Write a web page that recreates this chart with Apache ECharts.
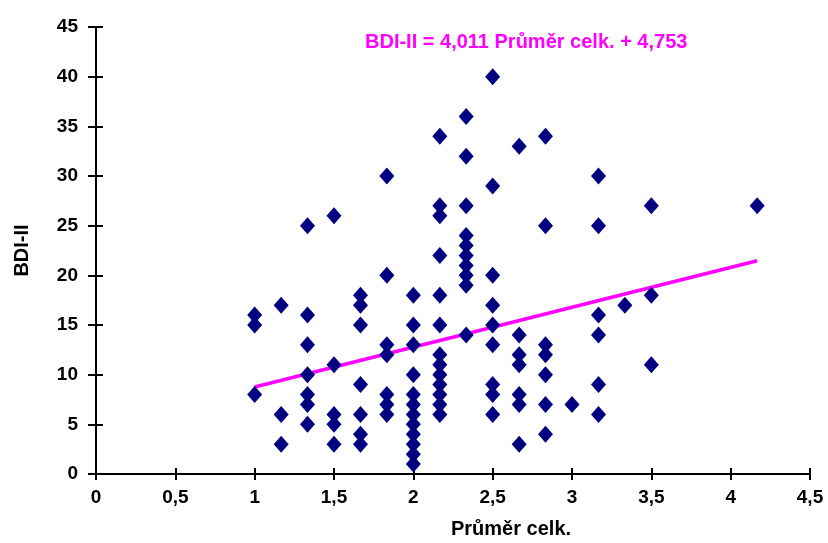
<!DOCTYPE html>
<html>
<head>
<meta charset="utf-8">
<script src="https://cdn.jsdelivr.net/npm/echarts@6/dist/echarts.min.js"></script>
<style>
  html, body { margin: 0; padding: 0; background: #fff; }
  #chart { width: 828px; height: 543px; }
</style>
</head>
<body>
<div id="chart"></div>
<script>
// Mean score (Průměr celk.) levels; each has a list of BDI-II scores
const meanLevels = [1, 1.167, 1.333, 1.5, 1.667, 1.833, 2, 2.167, 2.333, 2.5, 2.667, 2.833, 3, 3.167, 3.333, 3.5, 4.167];
const bdiScores = [
  [16, 15, 8],
  [17, 6, 3],
  [25, 16, 13, 10, 8, 7, 5],
  [26, 11, 6, 5, 3],
  [18, 17, 15, 9, 6, 4, 3],
  [30, 20, 13, 12, 8, 7, 6],
  [18, 15, 13, 10, 8, 7, 6, 5, 4, 3, 2, 1],
  [34, 27, 26, 22, 18, 15, 12, 11, 10, 9, 8, 7, 6],
  [36, 32, 27, 24, 23, 22, 21, 20, 19, 14],
  [40, 29, 20, 17, 15, 13, 9, 8, 6],
  [33, 14, 12, 11, 8, 7, 3],
  [34, 25, 13, 12, 10, 7, 4],
  [7],
  [30, 25, 16, 14, 9, 6],
  [17],
  [27, 18, 11],
  [27]
];

// Linear trend: BDI-II = slope * mean + intercept
const slope = 4.011;
const intercept = 4.753;
const trendRange = [1, 4.167];

const xTicks = ['0', '0,5', '1', '1,5', '2', '2,5', '3', '3,5', '4', '4,5'];

const points = [];
meanLevels.forEach((x, i) => bdiScores[i].forEach(y => points.push([x, y])));
const trendLine = trendRange.map(x => [x, slope * x + intercept]);

const fontFamily = '"Liberation Sans", Arial, sans-serif';
const tickStyle = { color: '#000', fontWeight: 'bold', fontSize: 19, fontFamily };
const nameStyle = { color: '#000', fontWeight: 'bold', fontSize: 20, fontFamily };

const chart = echarts.init(document.getElementById('chart'), null, { renderer: 'canvas' });
chart.setOption({
  animation: false,
  backgroundColor: '#fff',
  title: {
    text: 'BDI-II = 4,011 Průměr celk. + 4,753',
    left: 360,
    top: 27,
    textStyle: { color: '#FF00FF', fontWeight: 'bold', fontSize: 20, fontFamily }
  },
  graphic: [
    {
      type: 'text',
      left: 517 - 66,
      top: 519,
      style: Object.assign({ text: 'Průměr celk.', fill: '#000', font: 'bold 20px ' + fontFamily })
    }
  ],
  grid: { left: 96, right: 18, top: 27, bottom: 69, containLabel: false },
  xAxis: [
    {
      type: 'value', min: 0, max: 4.5, interval: 0.5,
      axisLine: { show: true, onZero: false, lineStyle: { color: '#000', width: 2 } },
      axisTick: { show: true, length: 6, lineStyle: { color: '#000', width: 2 } },
      axisLabel: Object.assign({ margin: 14, formatter: v => xTicks[Math.round(v * 2)] }, tickStyle),
      splitLine: { show: false }
    },
    {
      type: 'value', min: 0, max: 4.5, interval: 0.5, position: 'bottom',
      axisLine: { show: false },
      axisTick: { show: true, inside: true, length: 6, lineStyle: { color: '#000', width: 2 } },
      axisLabel: { show: false },
      splitLine: { show: false }
    }
  ],
  yAxis: [
    {
      type: 'value', min: 0, max: 45, interval: 5,
      name: 'BDI-II', nameLocation: 'middle', nameGap: 64, nameRotate: 90,
      nameTextStyle: nameStyle,
      axisLine: { show: true, onZero: false, lineStyle: { color: '#000', width: 2 } },
      axisTick: { show: true, length: 8, lineStyle: { color: '#000', width: 2 } },
      axisLabel: Object.assign({ margin: 18 }, tickStyle),
      splitLine: { show: false }
    },
    {
      type: 'value', min: 0, max: 45, interval: 5, position: 'left',
      axisLine: { show: false },
      axisTick: { show: true, inside: true, length: 7, lineStyle: { color: '#000', width: 2 } },
      axisLabel: { show: false },
      splitLine: { show: false }
    }
  ],
  series: [
    {
      type: 'line',
      data: trendLine,
      symbol: 'none',
      lineStyle: { color: '#FF00FF', width: 3.5 },
      z: 2
    },
    {
      type: 'scatter',
      data: points,
      symbol: 'diamond',
      symbolSize: [15, 17],
      itemStyle: { color: '#000080', opacity: 1 },
      z: 3
    }
  ]
});
</script>
</body>
</html>
